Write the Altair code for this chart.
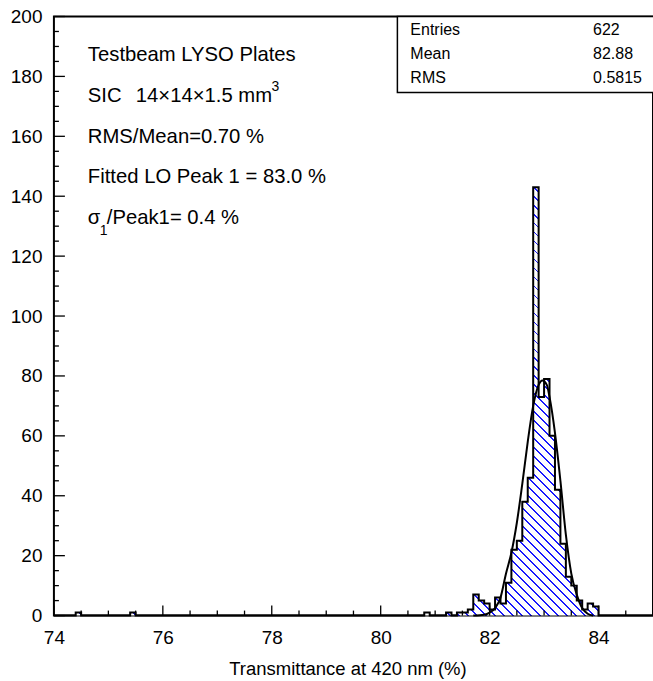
import altair as alt
import pandas as pd

FONT = "Liberation Sans"

# ---- data ----
bin_lo = [74.4, 75.4, 80.8, 81.2, 81.4, 81.5, 81.6, 81.7, 81.8, 81.9, 82.0, 82.1,
          82.2, 82.3, 82.4, 82.5, 82.6, 82.7, 82.8, 82.9, 83.0, 83.1, 83.2, 83.3,
          83.4, 83.5, 83.6, 83.7, 83.8, 83.9]
counts = [1, 1, 1, 1, 1, 1, 2, 7, 5, 4, 2, 6,
          4, 11, 22, 25, 38, 46, 143, 73, 79, 60, 42, 24,
          13, 10, 5, 2, 4, 3]
bin_width = 0.1
x_range = [74.0, 85.0]

fit_x = [81.7, 81.9, 82.0, 82.1, 82.2, 82.3, 82.4, 82.5, 82.6, 82.7, 82.8, 82.9,
         82.97, 83.05, 83.1, 83.2, 83.3, 83.4, 83.5, 83.6, 83.7, 83.8, 83.9]
fit_y = [0, 0.3, 1, 2.5, 6, 14, 21, 31, 44, 58, 70, 77,
         78.5, 77, 73, 61, 45, 27, 14, 7, 2.5, 0.6, 0]

x_major = [74, 76, 78, 80, 82, 84]
x_minor = [74.5, 75, 75.5, 76.5, 77, 77.5, 78.5, 79, 79.5, 80.5, 81, 81.5,
           82.5, 83, 83.5, 84.5]
y_major = [0, 20, 40, 60, 80, 100, 120, 140, 160, 180, 200]
y_minor = [v for v in range(5, 200, 5) if v % 20 != 0]

stats_names = ["Entries", "Mean", "RMS"]
stats_values = ["622", "82.88", "0.5815"]

# ---- build histogram table (all bins, zeros where empty) ----
lookup = {round(b, 1): c for b, c in zip(bin_lo, counts)}
n_bins = int(round((x_range[1] - x_range[0]) / bin_width))
edges = [round(x_range[0] + i * bin_width, 1) for i in range(n_bins + 1)]
hist = pd.DataFrame({
    "edge": edges,
    "count": [lookup.get(e, 0) for e in edges[:-1]] + [0],
})
fit = pd.DataFrame({"x": fit_x, "y": fit_y})

W, H = 600, 600
LEFT, TOP = 54, 16
y_max = 200

xs = alt.Scale(domain=x_range, nice=False, zero=False)
ys = alt.Scale(domain=[0, y_max], nice=False)

# hatch via a striped linear gradient over the area's bounding box
r = (max(counts) / y_max * H) / W
s = (1 + r) / (1 + r * r)
period = 9.0 / (W * (1 + r))
lw = 1.8 / (W * (1 + r))
stops = []
k = 0
while k * period < 1:
    a = k * period
    b = min(a + lw, 1.0)
    c = min(a + period, 1.0)
    stops += [alt.GradientStop(offset=a, color="#1a1aff"),
              alt.GradientStop(offset=b, color="#1a1aff"),
              alt.GradientStop(offset=b, color="white"),
              alt.GradientStop(offset=c, color="white")]
    k += 1
hatch = alt.Gradient(gradient="linear", stops=stops, x1=0, y1=1, x2=s, y2=1 - s * r)

base_x = alt.X("edge:Q", scale=xs, axis=alt.Axis(
    values=x_major, title="Transmittance at 420 nm (%)", ticks=False, domain=False,
    grid=False, labelFontSize=19, labelFont=FONT, labelColor="black", labelPadding=13,
    labelFlush=False, labelOverlap=False, titleFont=FONT, titleFontSize=18.5,
    titleFontWeight="normal", titleColor="black", titleX=294, titleY=53,
    titleAlign="center", titleBaseline="middle"))
base_y = alt.Y("count:Q", scale=ys, axis=alt.Axis(
    values=y_major, title=None, ticks=False, domain=False, grid=False,
    labelFontSize=19, labelFont=FONT, labelColor="black", labelPadding=12,
    labelFlush=False, labelOverlap=False))

area = alt.Chart(hist).mark_area(interpolate="step-after", color=hatch).encode(
    x=base_x, y=base_y)
outline = alt.Chart(hist).mark_line(interpolate="step-after", color="black",
                                    strokeWidth=2).encode(x="edge:Q", y="count:Q")
fitline = alt.Chart(fit).mark_line(interpolate="monotone", color="black",
                                   strokeWidth=2).encode(
    x=alt.X("x:Q", scale=xs), y=alt.Y("y:Q", scale=ys))

xt_major = alt.Chart(pd.DataFrame({"v": x_major})).mark_rule(color="black", strokeWidth=1.3).encode(
    x=alt.X("v:Q", scale=xs), y=alt.value(H), y2=alt.value(H - 10))
xt_minor = alt.Chart(pd.DataFrame({"v": x_minor})).mark_rule(color="black", strokeWidth=1.3).encode(
    x=alt.X("v:Q", scale=xs), y=alt.value(H), y2=alt.value(H - 5))
yt_major = alt.Chart(pd.DataFrame({"v": y_major})).mark_rule(color="black", strokeWidth=1.3).encode(
    y=alt.Y("v:Q", scale=ys), x=alt.value(0), x2=alt.value(11))
yt_minor = alt.Chart(pd.DataFrame({"v": y_minor})).mark_rule(color="black", strokeWidth=1.3).encode(
    y=alt.Y("v:Q", scale=ys), x=alt.value(0), x2=alt.value(5))


def label(txt, x, y, size=20.3, align="left"):
    return alt.Chart(pd.DataFrame({"t": [txt]})).mark_text(
        align=align, baseline="middle", fontSize=size, font=FONT, color="black"
    ).encode(x=alt.value(x - LEFT), y=alt.value(y - TOP), text="t:N")


texts = [
    label("Testbeam LYSO Plates", 88, 55),
    label("SIC", 88, 96),
    label("14×14×1.5 mm", 136, 96),
    label("3", 272, 87, size=14),
    label("RMS/Mean=0.70 %", 88, 137),
    label("Fitted LO Peak 1 = 83.0 %", 88, 177),
    label("σ", 88, 218),
    label("1", 100, 231, size=14),
    label("/Peak1= 0.4 %", 107, 218),
]

stats_box = alt.Chart(pd.DataFrame({"a": [0]})).mark_rect(
    fill="white", stroke="black", strokeWidth=1.5).encode(
    x=alt.value(398 - LEFT), x2=alt.value(W + 20), y=alt.value(0), y2=alt.value(92 - TOP))
stat_y = [30, 54, 78]
stats_texts = []
for nm, val, yy in zip(stats_names, stats_values, stat_y):
    stats_texts.append(label(nm, 411, yy, size=16))
    stats_texts.append(label(val, 594, yy, size=16))

chart = alt.layer(
    area, outline, fitline, xt_major, xt_minor, yt_major, yt_minor,
    *texts, stats_box, *stats_texts
).properties(
    width=W, height=H,
    autosize=alt.AutoSizeParams(type="none"),
    padding={"left": LEFT, "top": TOP, "right": 0, "bottom": 65},
    background="white",
).configure_view(stroke="black", strokeWidth=2)

chart.save("out.html", embed_options={"renderer": "svg", "actions": False})
